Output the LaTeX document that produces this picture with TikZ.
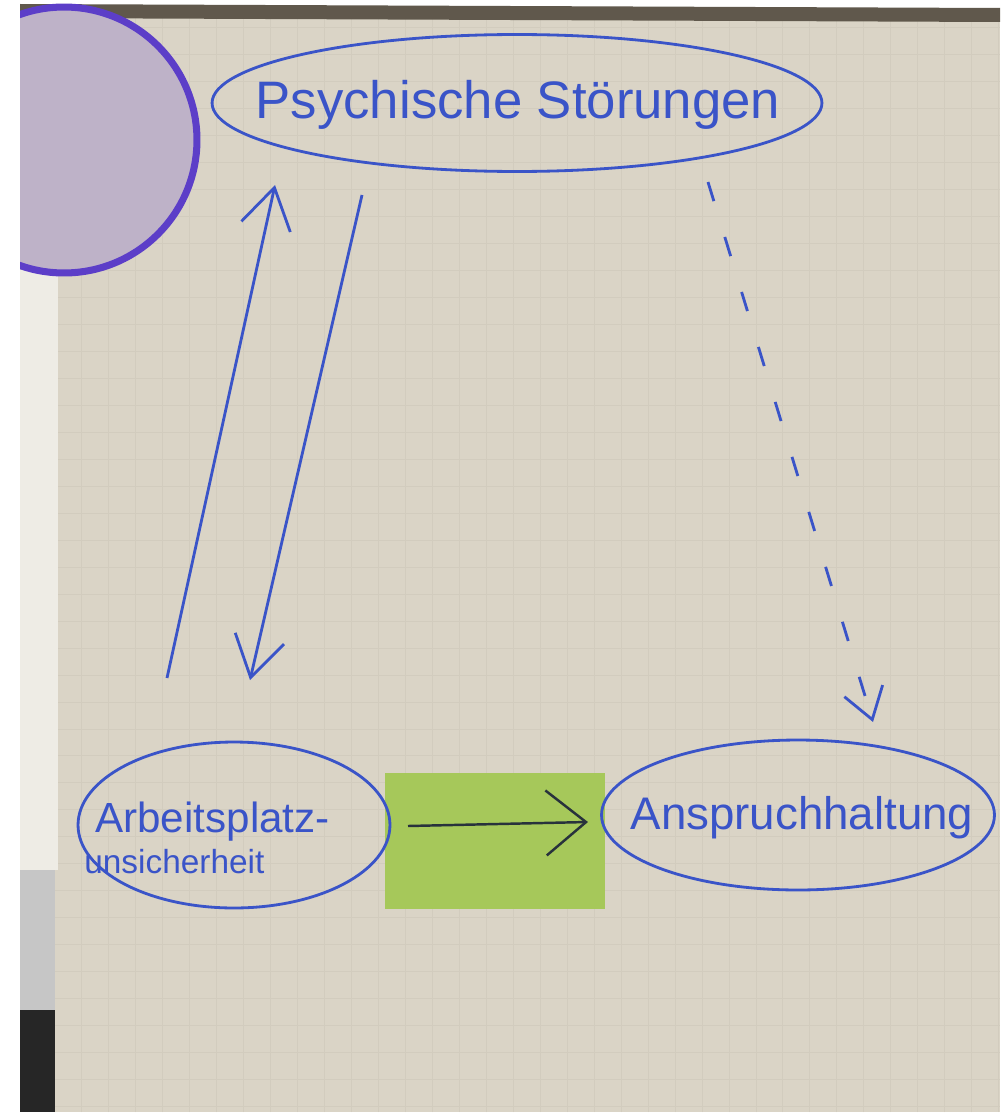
\documentclass[tikz,border=0pt]{standalone}
\usepackage{fontspec}
\setmainfont{Liberation Sans}
\usetikzlibrary{shapes.geometric,arrows.meta}
\definecolor{paper}{RGB}{218,212,198}
\definecolor{gridline}{RGB}{210,204,190}
\definecolor{topedge}{RGB}{96,88,76}
\definecolor{marker}{RGB}{58,84,200}
\definecolor{violet}{RGB}{92,62,200}
\definecolor{lilac}{RGB}{190,178,200}
\definecolor{sticky}{RGB}{166,200,90}
\definecolor{pen}{RGB}{40,50,60}
\tikzset{
  bubble/.style={draw=marker,line width=1.6pt,ellipse,inner sep=0pt},
  word/.style={text=marker,inner sep=0pt},
  link/.style={draw=marker,line width=1.6pt,-{Straight Barb[length=8mm,width=10mm]}},
}
\begin{document}
\begin{tikzpicture}[x=0.02cm,y=-0.02cm]
    \useasboundingbox (0,0) rectangle (1002,1115);
    \fill[white] (0,0) rectangle (1002,1115);
    % flipchart sheet
    \fill[paper] (20,18) rectangle (1000,1112);
    \draw[gridline,line width=0.4pt,step=0.54cm] (20,18) grid (1000,1112);
    \fill[topedge] (20,4) -- (1000,8) -- (1000,22) -- (20,18) -- cycle;
    % edge of the next sheets
    \fill[white!55!paper] (20,270) rectangle (58,870);
    \fill[gray!45] (20,870) rectangle (55,1010);
    \fill[black!85] (20,1010) rectangle (55,1112);
    % purple disc
    \begin{scope}
      \clip (20,4) rectangle (400,400);
      \filldraw[fill=lilac,draw=violet,line width=4pt] (64,140) circle [radius=2.66cm];
    \end{scope}
    % sticky note
    \node[fill=sticky,minimum width=4.4cm,minimum height=2.74cm,inner sep=0pt] (note) at (495,841) {};
    % bubbles
    \node[bubble,minimum width=12.2cm,minimum height=2.74cm] (psych) at (517,103) {};
    \node[word,font=\fontsize{30}{34}\selectfont] (psychtext) at (518,105) {Psychische Störungen};
    \node[bubble,minimum width=6.24cm,minimum height=3.32cm] (job) at (234,825) {};
    \node[word,font=\fontsize{24}{28}\selectfont,anchor=west] (jobtop) at (95,822) {Arbeitsplatz-};
    \node[word,font=\fontsize{19}{22}\selectfont,anchor=west] (jobbottom) at (84,862) {unsicherheit};
    \node[bubble,minimum width=7.86cm,minimum height=3cm] (claim) at (798,815) {};
    \node[word,font=\fontsize{26}{30}\selectfont] (claimtext) at (802,818) {Anspruchhaltung};
    % arrows
    \coordinate (upfoot) at (167,678);
    \coordinate (uptip) at (275,185);
    \coordinate (downfoot) at (362,195);
    \coordinate (downtip) at (250,680);
    \coordinate (dashfoot) at (708,182);
    \coordinate (dashtip) at (873,722);
    \coordinate (notefoot) at (408,826);
    \coordinate (notetip) at (588,822);
    \draw[link] (upfoot) -- (uptip);
    \draw[link] (downfoot) -- (downtip);
    \draw[link,dash pattern=on 0.4cm off 0.75cm,-{Straight Barb[length=6mm,width=8mm]}] (dashfoot) -- (dashtip);
    \draw[pen,line width=1.4pt,-{Straight Barb[length=8mm,width=13mm]}] (notefoot) -- (notetip);
\end{tikzpicture}
\end{document}
